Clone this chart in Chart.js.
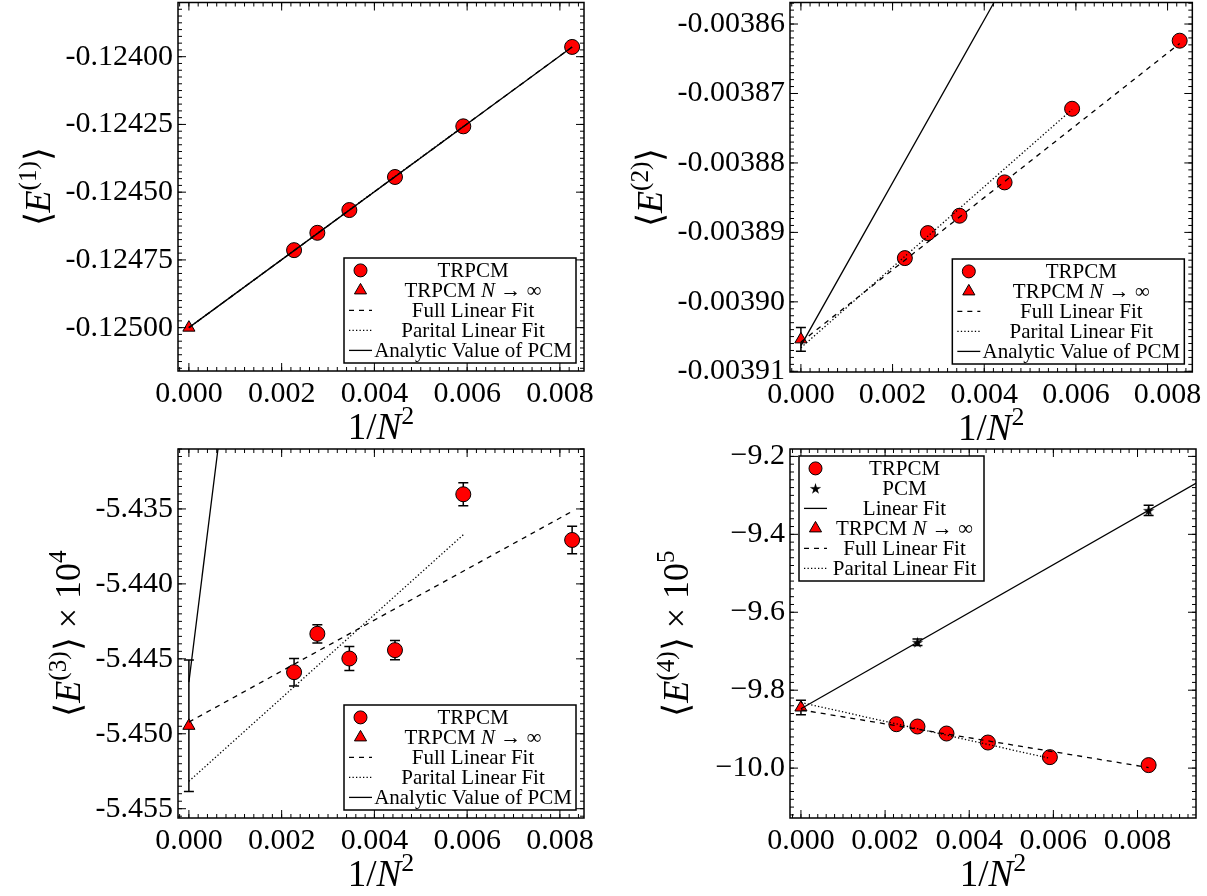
<!DOCTYPE html>
<html>
<head>
<meta charset="utf-8">
<script src="https://cdn.jsdelivr.net/npm/chart.js@4.4.1/dist/chart.umd.min.js"></script>
<style>
  html, body { margin: 0; padding: 0; background: #fff; }
  body { width: 1207px; height: 896px; position: relative; overflow: hidden; }
  .panel { position: absolute; }
</style>
</head>
<body>
<div class="panel" style="left:0;top:-6px;width:603px;height:452px"><canvas id="c1"></canvas></div>
<div class="panel" style="left:603px;top:-6px;width:604px;height:452px"><canvas id="c2"></canvas></div>
<div class="panel" style="left:0;top:440px;width:603px;height:456px"><canvas id="c3"></canvas></div>
<div class="panel" style="left:603px;top:440px;width:604px;height:456px"><canvas id="c4"></canvas></div>
<script>
// 1/N^2 for the finite systems, and where the fit lines start / stop
const xN = [0.002268, 0.002770, 0.003460, 0.004444, 0.005917, 0.008264];
const xInf = [0];
const fullFitX = [0, 0.008264];
const partFitX = [0, 0.005917];
const pcmFitX = [0, 0.0095];
const xTicks = [0, 0.002, 0.004, 0.006, 0.008];

// <E(1)>
const e1 = [-0.124714, -0.124650, -0.124566, -0.124444, -0.124257, -0.123964];
const e1Inf = [-0.125000];
const e1Full = [-0.125000, -0.123964];
const e1Part = [-0.125000, -0.124257];
const e1Analytic = [-0.125000, -0.123964];
const e1Ticks = [-0.12500, -0.12475, -0.12450, -0.12425, -0.12400];

// <E(2)>
const e2 = [-0.0038937, -0.0038901, -0.0038876, -0.0038828, -0.0038722, -0.0038624];
const e2Inf = [-0.0039054];
const e2InfErr = [0.0000017];
const e2Full = [-0.0039058, -0.0038628];
const e2Part = [-0.0039066, -0.0038723];
const e2Analytic = [-0.0039063, -0.0038094];
const e2Ticks = [-0.00391, -0.00390, -0.00389, -0.00388, -0.00387, -0.00386];

// <E(3)> x 10^4
const e3 = [-5.44589, -5.44333, -5.44498, -5.44442, -5.43402, -5.43707];
const e3Err = [0.00092, 0.00061, 0.00080, 0.00064, 0.00077, 0.00092];
const e3Inf = [-5.44947];
const e3InfErr = [0.00439];
const e3Full = [-5.44922, -5.43516];
const e3Part = [-5.45317, -5.43672];
const e3Analytic = [-5.44655, -5.24160];
const e3Ticks = [-5.455, -5.450, -5.445, -5.440, -5.435];

// <E(4)> x 10^5
const e4 = [-9.8873, -9.8932, -9.9112, -9.9343, -9.9718, -9.9923];
const e4PcmX = [0.002770, 0.008264];
const e4Pcm = [-9.6770, -9.3385];
const e4PcmErr = [0.0085, 0.013];
const e4PcmFit = [-9.8476, -9.2624];
const e4Inf = [-9.8444];
const e4InfErr = [0.0188];
const e4Full = [-9.8505, -9.9985];
const e4Part = [-9.8315, -9.9750];
const e4Ticks = [-10.0, -9.8, -9.6, -9.4, -9.2];

const FONT = "'Liberation Serif', 'Times New Roman', serif";
const RED = "#ff0000";

// filled five-point star, like matplotlib's '*' marker
const starImg = (() => {
    const c = document.createElement("canvas");
    c.width = 13;
    c.height = 13;
    const g = c.getContext("2d");
    g.beginPath();
    for (let i = 0; i < 10; i++) {
        const r = i % 2 ? 2.2 : 6;
        const ang = -Math.PI / 2 + (i * Math.PI) / 5;
        g.lineTo(6.5 + r * Math.cos(ang), 7 + r * Math.sin(ang));
    }
    g.closePath();
    g.fillStyle = "#000";
    g.fill();
    return c;
})();

function pts(xs, ys) {
    return xs.map((x, i) => ({ x, y: ys[i] }));
}

function marker(label, xs, ys, style, radius, errors) {
    return {
        label,
        data: pts(xs, ys),
        errors,
        showLine: false,
        pointStyle: style,
        pointRadius: radius,
        backgroundColor: RED,
        borderColor: "#000",
        borderWidth: 1,
        order: 1,
    };
}

function fitLine(label, xs, ys, dash) {
    return {
        label,
        data: pts(xs, ys),
        showLine: true,
        pointRadius: 0,
        borderColor: "#000",
        borderWidth: 1.3,
        borderDash: dash,
        order: 0,
    };
}

const DASH = [5, 5];
const DOT = [1.3, 2.2];

function segFont(st, size) {
    const s = st.includes("s") ? size * 0.7 : size;
    return (st.includes("i") ? "italic " : "") + s + "px " + FONT;
}

function drawRich(ctx, segs, x, y, size, align) {
    let w = 0;
    segs.forEach(([t, st = ""]) => {
        ctx.font = segFont(st, size);
        w += ctx.measureText(t).width;
    });
    let cx = align === "center" ? x - w / 2 : x;
    ctx.textAlign = "left";
    ctx.textBaseline = "alphabetic";
    segs.forEach(([t, st = ""]) => {
        ctx.font = segFont(st, size);
        ctx.fillText(t, cx, st.includes("s") ? y - size * 0.4 : y);
        cx += ctx.measureText(t).width;
    });
}

// "TRPCM N -> inf": the lone N is set in italics
function labelSegs(label) {
    return label.split(/(\bN\b)/).filter((t) => t).map((t) => (t === "N" ? [t, "i"] : [t]));
}

function stepValues(min, max, step) {
    const out = [];
    for (let k = Math.ceil(min / step - 1e-9); k * step <= max + 1e-12; k++) out.push(k * step);
    return out;
}

// frame, inward ticks on all four sides, error bars, axis titles and the boxed legend
function panelPlugin(p) {
    return {
        id: "panel",
        beforeDatasetsDraw(chart) {
            const ctx = chart.ctx;
            const xs = chart.scales.x, ys = chart.scales.y;
            ctx.save();
            ctx.strokeStyle = "#000";
            ctx.lineWidth = 1.5;
            chart.data.datasets.forEach((ds) => {
                if (!ds.errors) return;
                ds.data.forEach((d, j) => {
                    const px = xs.getPixelForValue(d.x);
                    const y1 = ys.getPixelForValue(d.y - ds.errors[j]);
                    const y2 = ys.getPixelForValue(d.y + ds.errors[j]);
                    ctx.beginPath();
                    ctx.moveTo(px, y1); ctx.lineTo(px, y2);
                    ctx.moveTo(px - 5, y1); ctx.lineTo(px + 5, y1);
                    ctx.moveTo(px - 5, y2); ctx.lineTo(px + 5, y2);
                    ctx.stroke();
                });
            });
            ctx.restore();
        },
        afterDraw(chart) {
            const ctx = chart.ctx;
            const a = chart.chartArea;
            const xs = chart.scales.x, ys = chart.scales.y;
            ctx.save();
            ctx.strokeStyle = "#000";
            ctx.lineWidth = 1;
            const tick = (vals, len) => {
                ctx.beginPath();
                vals.forEach((v) => {
                    const px = xs.getPixelForValue(v);
                    if (px < a.left || px > a.right) return;
                    ctx.moveTo(px, a.bottom); ctx.lineTo(px, a.bottom - len);
                    ctx.moveTo(px, a.top); ctx.lineTo(px, a.top + len);
                });
                ctx.stroke();
            };
            const ytick = (vals, len) => {
                ctx.beginPath();
                vals.forEach((v) => {
                    const py = ys.getPixelForValue(v);
                    if (py < a.top || py > a.bottom) return;
                    ctx.moveTo(a.left, py); ctx.lineTo(a.left + len, py);
                    ctx.moveTo(a.right, py); ctx.lineTo(a.right - len, py);
                });
                ctx.stroke();
            };
            tick(stepValues(xs.min, xs.max, 0.0002), 4);
            tick(xTicks, 8);
            ytick(stepValues(ys.min, ys.max, p.yMinor), 4);
            ytick(p.yTicks, 8);
            ctx.lineWidth = 1.5;
            ctx.strokeRect(a.left, a.top, a.right - a.left, a.bottom - a.top);

            ctx.fillStyle = "#000";
            drawRich(ctx, [["1/"], ["N", "i"], ["2", "s"]], (a.left + a.right) / 2, a.bottom + 68, 37, "center");
            ctx.save();
            ctx.translate(a.left - p.yTitleOff, (a.top + a.bottom) / 2);
            ctx.rotate(-Math.PI / 2);
            drawRich(ctx, p.yTitle, 0, 0, 36, "center");
            ctx.restore();

            // legend
            const lg = p.legend;
            const dsets = chart.data.datasets;
            const h = dsets.length * 20 + 5;
            const bx = lg.corner === "ul" ? a.left + 9 : a.right - 8 - lg.w;
            const by = lg.corner === "ul" ? a.top + 7 : a.bottom - 8 - h;
            ctx.fillStyle = "#fff";
            ctx.fillRect(bx, by, lg.w, h);
            ctx.lineWidth = 1.5;
            ctx.strokeRect(bx, by, lg.w, h);
            dsets.forEach((ds, i) => {
                const cy = by + 12.4 + 20 * i;
                if (ds.showLine) {
                    ctx.strokeStyle = "#000";
                    ctx.lineWidth = 1.3;
                    ctx.setLineDash(ds.borderDash || []);
                    ctx.beginPath();
                    ctx.moveTo(bx + 5, cy); ctx.lineTo(bx + 28, cy);
                    ctx.stroke();
                    ctx.setLineDash([]);
                } else {
                    ctx.fillStyle = ds.backgroundColor;
                    ctx.strokeStyle = ds.borderColor;
                    ctx.lineWidth = 1;
                    Chart.helpers.drawPoint(ctx, {
                        pointStyle: ds.pointStyle,
                        radius: ds.pointStyle === "circle" ? 6.5 : ds.pointRadius,
                        rotation: 0,
                        borderWidth: 1,
                    }, bx + 16.5, cy);
                }
                ctx.fillStyle = "#000";
                drawRich(ctx, labelSegs(ds.label), (bx + 32 + bx + lg.w) / 2 - 3, cy + 7, 21, "center");
            });
            ctx.restore();
        },
    };
}

function makeChart(id, p) {
    new Chart(document.getElementById(id), {
        type: "scatter",
        data: { datasets: p.datasets },
        options: {
            responsive: true,
            maintainAspectRatio: false,
            animation: false,
            layout: { padding: { top: p.padTop, right: p.padRight, left: 0, bottom: 0 } },
            plugins: { legend: { display: false }, tooltip: { enabled: false } },
            scales: {
                x: {
                    type: "linear",
                    min: p.xMin,
                    max: p.xMax,
                    grid: { display: false, drawTicks: false },
                    border: { display: false },
                    afterBuildTicks: (ax) => { ax.ticks = xTicks.map((v) => ({ value: v })); },
                    afterFit: (s) => { s.height = p.xh; },
                    ticks: {
                        font: { family: FONT, size: 30 }, color: "#000", padding: 5,
                        maxRotation: 0, autoSkip: false,
                        callback: (v) => Number(v).toFixed(3),
                    },
                },
                y: {
                    type: "linear",
                    min: p.yMin,
                    max: p.yMax,
                    grid: { display: false, drawTicks: false },
                    border: { display: false },
                    afterBuildTicks: (ax) => { ax.ticks = p.yTicks.map((v) => ({ value: v })); },
                    afterFit: (s) => { s.width = p.yw; },
                    ticks: {
                        font: { family: FONT, size: 30, lineHeight: 0.2 }, color: "#000", padding: 5,
                        autoSkip: false,
                        callback: p.yFmt,
                    },
                },
            },
        },
        plugins: [panelPlugin(p)],
    });
}

makeChart("c1", {
    datasets: [
        marker("TRPCM", xN, e1, "circle", 7.5),
        marker("TRPCM N → ∞", xInf, e1Inf, "triangle", 7),
        fitLine("Full Linear Fit", fullFitX, e1Full, DASH),
        fitLine("Parital Linear Fit", partFitX, e1Part, DOT),
        fitLine("Analytic Value of PCM", fullFitX, e1Analytic, []),
    ],
    xMin: -0.000235, xMax: 0.00852, yMin: -0.12516, yMax: -0.12380,
    yTicks: e1Ticks, yMinor: 0.000025, yFmt: (v) => Number(v).toFixed(5),
    yTitle: [["⟨"], ["E", "i"], ["(1)", "s"], ["⟩"]], yTitleOff: 128,
    padTop: 2, padRight: 19, yw: 178, xh: 75,
    legend: { corner: "lr", w: 232 },
});

makeChart("c2", {
    datasets: [
        marker("TRPCM", xN, e2, "circle", 7.5),
        marker("TRPCM N → ∞", xInf, e2Inf, "triangle", 7, e2InfErr),
        fitLine("Full Linear Fit", fullFitX, e2Full, DASH),
        fitLine("Parital Linear Fit", partFitX, e2Part, DOT),
        fitLine("Analytic Value of PCM", fullFitX, e2Analytic, []),
    ],
    xMin: -0.000238, xMax: 0.00854, yMin: -0.0039101, yMax: -0.0038569,
    yTicks: e2Ticks, yMinor: 0.000001, yFmt: (v) => Number(v).toFixed(5),
    yTitle: [["⟨"], ["E", "i"], ["(2)", "s"], ["⟩"]], yTitleOff: 128,
    padTop: 2, padRight: 11, yw: 187, xh: 74,
    legend: { corner: "lr", w: 232 },
});

makeChart("c3", {
    datasets: [
        marker("TRPCM", xN, e3, "circle", 7.5, e3Err),
        marker("TRPCM N → ∞", xInf, e3Inf, "triangle", 7, e3InfErr),
        fitLine("Full Linear Fit", fullFitX, e3Full, DASH),
        fitLine("Parital Linear Fit", partFitX, e3Part, DOT),
        fitLine("Analytic Value of PCM", fullFitX, e3Analytic, []),
    ],
    xMin: -0.000235, xMax: 0.00852, yMin: -5.45562, yMax: -5.4310,
    yTicks: e3Ticks, yMinor: 0.0005, yFmt: (v) => Number(v).toFixed(3),
    yTitle: [["⟨"], ["E", "i"], ["(3)", "s"], ["⟩ × 10"], ["4", "s"]], yTitleOff: 98,
    padTop: 9, padRight: 19, yw: 178, xh: 78,
    legend: { corner: "lr", w: 232 },
});

makeChart("c4", {
    datasets: [
        marker("TRPCM", xN, e4, "circle", 7.5),
        marker("PCM", e4PcmX, e4Pcm, starImg, 6, e4PcmErr),
        fitLine("Linear Fit", pcmFitX, e4PcmFit, []),
        marker("TRPCM N → ∞", xInf, e4Inf, "triangle", 7, e4InfErr),
        fitLine("Full Linear Fit", fullFitX, e4Full, DASH),
        fitLine("Parital Linear Fit", partFitX, e4Part, DOT),
    ],
    xMin: -0.00026, xMax: 0.00939, yMin: -10.128, yMax: -9.181,
    yTicks: e4Ticks, yMinor: 0.02, yFmt: (v) => Number(v).toFixed(1).replace("-", "−"),
    yTitle: [["⟨"], ["E", "i"], ["(4)", "s"], ["⟩ × 10"], ["5", "s"]], yTitleOff: 102,
    padTop: 9, padRight: 11, yw: 187, xh: 78,
    legend: { corner: "ul", w: 185 },
});
</script>
</body>
</html>
